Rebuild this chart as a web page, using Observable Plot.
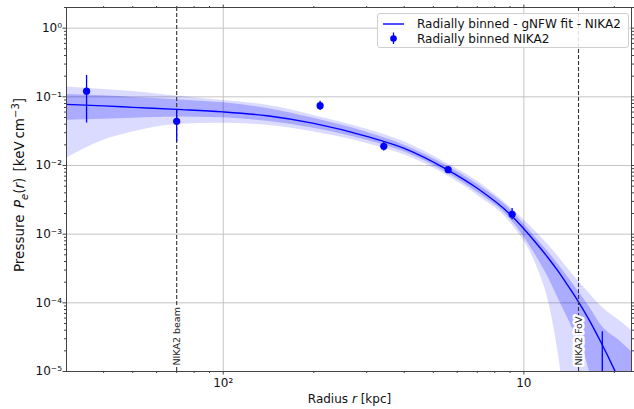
<!DOCTYPE html>
<html><head><meta charset="utf-8">
<script src="https://cdn.jsdelivr.net/npm/d3@7"></script>
<script src="https://cdn.jsdelivr.net/npm/@observablehq/plot@0.6"></script>
<style>
body{margin:0;background:#fff;font-family:"DejaVu Sans",sans-serif;}
#wrap{position:relative;width:634px;height:409px;overflow:hidden;}
.lbl{position:absolute;white-space:nowrap;color:#111;line-height:1;}
#ylab{left:20px;top:185px;font-size:13.5px;word-spacing:2px;transform:translate(-50%,-50%) rotate(-90deg);}
#ylab sub,#ylab sup{font-size:10px;line-height:0;}
#xlab{left:349.5px;top:399px;font-size:12px;transform:translate(-50%,-50%);}
#legend{position:absolute;left:377px;top:13px;width:250px;height:33px;border:1px solid #cfcfcf;border-radius:3px;background:rgba(255,255,255,0.85);}
</style></head><body><div id="wrap"></div>
<script>
// ---- data ----
const radius = [30,40,50,70,100,140,200,300,400,550,700,900,1100,1200,1300,1400,1500,1650,1800,2100,2300];
const fitP   = [0.0776,0.0738,0.0703,0.0656,0.0604,0.0530,0.0411,0.0266,0.0178,0.00895,0.00466,0.00195,7.38e-4,4.62e-4,2.89e-4,1.79e-4,1.13e-4,5.6e-5,2.73e-5,6.7e-6,2.7e-6];
const innerHi = [0.1086,0.1033,0.0982,0.0910,0.0817,0.0679,0.0486,0.0304,0.0197,0.01007,0.00533,0.00231,8.73e-4,5.65e-4,3.66e-4,2.38e-4,1.58e-4,8.81e-5,4.82e-5,2.71e-5,1.87e-5];
const innerLo = [0.0454,0.0470,0.0486,0.0507,0.0494,0.0440,0.0348,0.0233,0.0158,0.00796,0.00407,0.00168,4.78e-4,2.44e-4,1.17e-4,5.98e-5,3.07e-5,1.02e-5,1e-6,1e-7,1e-7];
const outerHi = [0.1387,0.1282,0.120,0.1026,0.0887,0.0752,0.0537,0.0337,0.0221,0.01094,0.00589,0.00247,1.07e-3,7.13e-4,4.78e-4,3.16e-4,2.21e-4,1.38e-4,9.1e-5,5.33e-5,3.84e-5];
const outerLo = [0.0126,0.0233,0.0307,0.0397,0.0411,0.0385,0.0307,0.0210,0.0143,0.00733,0.00369,0.00149,3.53e-4,1.17e-4,1.92e-5,1.6e-6,3e-7,1e-7,1e-7,1e-7,1e-7];

const binR  = [35.1, 70, 210, 342, 560, 914, 1824];
const binP  = [0.121, 0.044, 0.0743, 0.0190, 0.0087, 0.00195, 3e-6];
const binLo = [0.0415, 0.022, 0.0635, 0.0163, 0.0080, 0.00161, 1e-8];
const binHi = [0.205, 0.066, 0.0859, 0.0216, 0.0095, 0.00237, 3.79e-5];

const markerLines = [{r: 70, label: "NIKA2 beam"}, {r: 1520, label: "NIKA2 FoV"}];

const yTicks = [1e-5, 1e-4, 1e-3, 1e-2, 1e-1, 1];
const yTickLabels = ["10\u207B\u2075", "10\u207B\u2074", "10\u207B\u00B3", "10\u207B\u00B2", "10\u207B\u00B9", "10\u2070"];
const xTicks = [100, 1000];
const xTickLabels = ["10\u00B2", "10"];

// ---- build tables ----
const band = radius.map((r, i) => ({r, fit: fitP[i], iLo: innerLo[i], iHi: innerHi[i], oLo: outerLo[i], oHi: outerHi[i]}));
const bins = binR.map((r, i) => ({r, p: binP[i], lo: binLo[i], hi: binHi[i]}));
const yMinor = [];
for (let e = -5; e <= 0; e++) for (let k = 2; k <= 9; k++) { const v = k * 10 ** e; if (v <= 2) yMinor.push(v); }
const xMinor = [];
for (let e = 1; e <= 3; e++) for (let k = 2; k <= 9; k++) { const v = k * 10 ** e; if (v >= 30.1 && v <= 2281) xMinor.push(v); }
const yLab = new Map(yTicks.map((t, i) => [t, yTickLabels[i]]));
const xLab = new Map(xTicks.map((t, i) => [t, xTickLabels[i]]));

const blue = "#0000ff";
const chart = Plot.plot({
  width: 634, height: 409,
  marginLeft: 66, marginRight: 3, marginTop: 7, marginBottom: 38,
  style: {fontFamily: "DejaVu Sans", fontSize: "12px", background: "white", color: "#111"},
  x: {type: "log", domain: [30.1, 2281], axis: null},
  y: {type: "log", domain: [1e-5, 2.0], axis: null},
  marks: [
    Plot.ruleX(xTicks, {stroke: "#c4c4c4", strokeWidth: 1}),
    Plot.ruleY(yTicks, {stroke: "#c4c4c4", strokeWidth: 1}),
    Plot.areaY(band, {x: "r", y1: "oLo", y2: "oHi", fill: blue, fillOpacity: 0.14, curve: "monotone-x", clip: true}),
    Plot.areaY(band, {x: "r", y1: "iLo", y2: "iHi", fill: blue, fillOpacity: 0.22, curve: "monotone-x", clip: true}),
    Plot.line(band, {x: "r", y: "fit", stroke: blue, strokeWidth: 1.4, curve: "monotone-x", clip: true}),
    Plot.ruleX(markerLines, {x: "r", stroke: "#333", strokeWidth: 1.1, strokeDasharray: "4,2"}),
    Plot.text(markerLines, {x: "r", y: 1.22e-5, text: "label", rotate: -90, textAnchor: "start", fontSize: 9.5, fill: "#222", stroke: "white", strokeWidth: 5}),
    Plot.ruleX(bins, {x: "r", y1: "lo", y2: "hi", stroke: blue, strokeWidth: 1.3, clip: true}),
    Plot.dot(bins, {x: "r", y: "p", r: 3.6, fill: blue, stroke: null, clip: true}),
    Plot.frame({stroke: "#444", strokeWidth: 1}),
    Plot.axisY(yTicks, {anchor: "left", tickSize: 3.5, tickPadding: 1, tickFormat: d => yLab.get(d), fontSize: 12, stroke: "#444", label: null}),
    Plot.axisY(yMinor, {anchor: "left", tickSize: 2, tickFormat: () => "", stroke: "#444", label: null}),
    Plot.axisY(yTicks, {anchor: "right", tickSize: 3.5, tickFormat: () => "", stroke: "#444", label: null}),
    Plot.axisY(yMinor, {anchor: "right", tickSize: 2, tickFormat: () => "", stroke: "#444", label: null}),
    Plot.axisX(xTicks, {anchor: "bottom", tickSize: 3.5, tickPadding: 3.5, tickFormat: d => xLab.get(d), fontSize: 12, stroke: "#444", label: null}),
    Plot.axisX(xMinor, {anchor: "bottom", tickSize: 2, tickFormat: () => "", stroke: "#444", label: null}),
    Plot.axisX(xTicks, {anchor: "top", tickSize: 3.5, tickFormat: () => "", stroke: "#444", label: null}),
    Plot.axisX(xMinor, {anchor: "top", tickSize: 2, tickFormat: () => "", stroke: "#444", label: null})
  ]
});
const wrap = document.getElementById("wrap");
wrap.appendChild(chart);

// axis titles
const yl = document.createElement("div"); yl.className = "lbl"; yl.id = "ylab";
yl.innerHTML = 'Pressure <i>P</i><sub><i>e</i></sub>(<i>r</i>) [keV&#8201;cm<sup>\u22123</sup>]';
wrap.appendChild(yl);
const xl = document.createElement("div"); xl.className = "lbl"; xl.id = "xlab";
xl.innerHTML = 'Radius <i>r</i> [kpc]';
wrap.appendChild(xl);

// legend
const lg = document.createElement("div"); lg.id = "legend";
lg.innerHTML = `<svg width="250" height="33" style="position:absolute;left:0;top:0;font-family:'DejaVu Sans';font-size:12px">
  <line x1="5" x2="26" y1="10" y2="10" stroke="${blue}" stroke-width="1.4"/>
  <line x1="15.5" x2="15.5" y1="18.5" y2="30" stroke="${blue}" stroke-width="1.3"/>
  <circle cx="15.5" cy="24.5" r="3.3" fill="${blue}"/>
  <text x="39" y="10" dy="0.35em" fill="#111">Radially binned - gNFW fit - NIKA2</text>
  <text x="39" y="25" dy="0.35em" fill="#111">Radially binned NIKA2</text>
</svg>`;
wrap.appendChild(lg);
</script>
</body></html>
